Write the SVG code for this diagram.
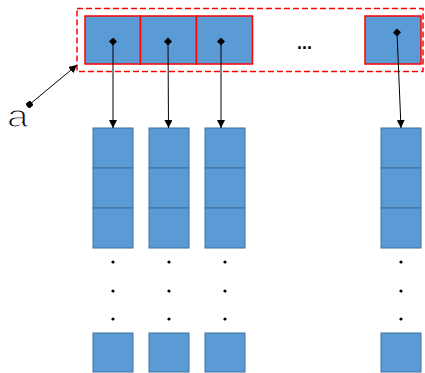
<svg xmlns="http://www.w3.org/2000/svg" width="425" height="373" viewBox="0 0 425 373">
<style>
.top{fill:#5B9BD5;stroke:#FF0000;stroke-width:1.5}
.cell{fill:#5B9BD5;stroke:#41719C;stroke-width:1}
.dash{fill:none;stroke:#FF0000;stroke-width:1.5;stroke-dasharray:6 3}
.conn{stroke:#000;stroke-width:1;fill:none}
.dot{fill:#000}
</style>
<defs>
<marker id="arrow" viewBox="0 0 10 10" refX="10" refY="5" markerWidth="8" markerHeight="8" markerUnits="userSpaceOnUse" orient="auto"><path d="M0,0 L10,5 L0,10 z" fill="#000"/></marker>
<marker id="diamond" viewBox="0 0 10 10" refX="5" refY="5" markerWidth="8" markerHeight="8" markerUnits="userSpaceOnUse" orient="auto"><path d="M5,0 L10,5 L5,10 L0,5 z" fill="#000"/></marker>
<marker id="square" viewBox="0 0 10 10" refX="5" refY="5" markerWidth="6" markerHeight="6" markerUnits="userSpaceOnUse" orient="auto"><rect x="0" y="0" width="10" height="10" fill="#000"/></marker>
</defs>
<g id="array-box">
<rect class="dash" x="77" y="8.5" width="346" height="63"/>
</g>
<g id="top-cells">
<rect class="top" x="85" y="16" width="55.5" height="48"/>
<rect class="top" x="140.5" y="16" width="56" height="48"/>
<rect class="top" x="196.5" y="16" width="56" height="48"/>
<rect class="top" x="365" y="16" width="56" height="48"/>
<text x="304.5" y="49" font-family="Liberation Sans, sans-serif" font-size="18" font-weight="bold" text-anchor="middle">...</text>
</g>
<g id="label-a">
<text transform="translate(7,127) scale(1.2,1)" font-family="Liberation Sans, sans-serif" font-size="32" fill="#000" stroke="#fff" stroke-width="1.2">a</text>
</g>
<g id="col1">
<rect class="cell" x="93" y="128" width="40" height="40"/>
<rect class="cell" x="93" y="168" width="40" height="40"/>
<rect class="cell" x="93" y="208" width="40" height="40"/>
<circle class="dot" cx="113" cy="262" r="1.6"/>
<circle class="dot" cx="113" cy="291" r="1.6"/>
<circle class="dot" cx="113" cy="319" r="1.6"/>
<rect class="cell" x="93" y="333" width="40" height="39"/>
</g>
<g id="col2">
<rect class="cell" x="149" y="128" width="40" height="40"/>
<rect class="cell" x="149" y="168" width="40" height="40"/>
<rect class="cell" x="149" y="208" width="40" height="40"/>
<circle class="dot" cx="169" cy="262" r="1.6"/>
<circle class="dot" cx="169" cy="291" r="1.6"/>
<circle class="dot" cx="169" cy="319" r="1.6"/>
<rect class="cell" x="149" y="333" width="40" height="39"/>
</g>
<g id="col3">
<rect class="cell" x="205" y="128" width="40" height="40"/>
<rect class="cell" x="205" y="168" width="40" height="40"/>
<rect class="cell" x="205" y="208" width="40" height="40"/>
<circle class="dot" cx="225" cy="262" r="1.6"/>
<circle class="dot" cx="225" cy="291" r="1.6"/>
<circle class="dot" cx="225" cy="319" r="1.6"/>
<rect class="cell" x="205" y="333" width="40" height="39"/>
</g>
<g id="col4">
<rect class="cell" x="381" y="128" width="40" height="40"/>
<rect class="cell" x="381" y="168" width="40" height="40"/>
<rect class="cell" x="381" y="208" width="40" height="40"/>
<circle class="dot" cx="401" cy="262" r="1.6"/>
<circle class="dot" cx="401" cy="291" r="1.6"/>
<circle class="dot" cx="401" cy="319" r="1.6"/>
<rect class="cell" x="381" y="333" width="40" height="39"/>
</g>
<g id="connectors">
<line class="conn" x1="113" y1="41.5" x2="113" y2="128" marker-start="url(#diamond)" marker-end="url(#arrow)"/>
<line class="conn" x1="168" y1="41.5" x2="168.5" y2="128" marker-start="url(#diamond)" marker-end="url(#arrow)"/>
<line class="conn" x1="221" y1="41.5" x2="221" y2="128" marker-start="url(#diamond)" marker-end="url(#arrow)"/>
<line class="conn" x1="397" y1="32.5" x2="401" y2="128" marker-start="url(#diamond)" marker-end="url(#arrow)"/>
<line class="conn" x1="29.5" y1="104.5" x2="77" y2="65" marker-start="url(#square)" marker-end="url(#arrow)"/>
</g>
</svg>
